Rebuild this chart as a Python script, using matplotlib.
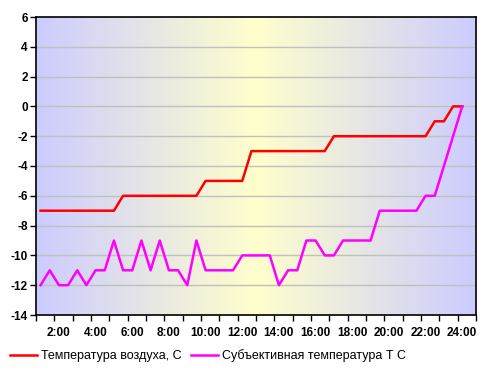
import numpy as np
import matplotlib
matplotlib.use("Agg")
import matplotlib.pyplot as plt
from matplotlib.colors import LinearSegmentedColormap

plt.rcParams['font.family'] = ['Liberation Sans', 'DejaVu Sans']

# half-hour readings, 1:00 .. 24:00
air_temp = [-7, -7, -7, -7, -7, -7, -7, -7, -7,
            -6, -6, -6, -6, -6, -6, -6, -6, -6,
            -5, -5, -5, -5, -5,
            -3, -3, -3, -3, -3, -3, -3, -3, -3,
            -2, -2, -2, -2, -2, -2, -2, -2, -2, -2, -2,
            -1, -1, 0, 0]
feel_temp = [-12, -11, -12, -12, -11, -12, -11, -11, -9, -11,
             -11, -9, -11, -9, -11, -11, -12, -9, -11, -11,
             -11, -11, -10, -10, -10, -10, -12, -11, -11, -9,
             -9, -10, -10, -9, -9, -9, -9, -7, -7, -7,
             -7, -7, -6, -6, -4, -2, 0]
hour_labels = ['2:00', '4:00', '6:00', '8:00', '10:00', '12:00',
               '14:00', '16:00', '18:00', '20:00', '22:00', '24:00']
y_ticks = [-14, -12, -10, -8, -6, -4, -2, 0, 2, 4, 6]

n_cat = 48
x = np.arange(len(air_temp))

fig = plt.figure(figsize=(4.88, 3.72), dpi=100)
ax = fig.add_axes([36 / 488, 1 - 315 / 372, 440 / 488, 298 / 372])

# background gradient: lavender at edges, pale yellow in the middle
cmap = LinearSegmentedColormap.from_list('bg', ['#ccccff', '#ffffcc', '#ccccff'])
grad = np.linspace(0, 1, 256).reshape(1, -1)
ax.imshow(grad, cmap=cmap, aspect='auto', extent=[-0.5, n_cat - 0.5, -14, 6], zorder=0)

ax.set_xlim(-0.5, n_cat - 0.5)
ax.set_ylim(-14, 6)

ax.set_yticks(y_ticks)
ax.set_yticklabels([str(v) for v in y_ticks], fontweight='bold', fontsize=8.5)
for v in y_ticks[1:-1]:
    ax.axhline(v, color='#c0c0c0', lw=1.0, zorder=1)

ax.set_xticks(np.arange(-0.5, n_cat, 2), minor=False)
ax.set_xticklabels([])
ax.set_xticks(np.arange(2, n_cat, 4), minor=True)
ax.set_xticklabels(hour_labels, minor=True, fontweight='bold', fontsize=8.5)
ax.tick_params(axis='x', which='major', length=4, width=1, direction='out')
ax.tick_params(axis='x', which='minor', length=0, pad=9)
ax.tick_params(axis='y', length=4, width=1, direction='out', pad=2)

for s in ax.spines.values():
    s.set_color('black')
    s.set_linewidth(1.2)

ax.plot(x, air_temp, color='#ff0000', lw=1.8, label='Температура воздуха, С', zorder=3)
ax.plot(x, feel_temp, color='#ff00ff', lw=1.8, label='Субъективная температура Т С', zorder=3)

fig.legend(loc='lower left', bbox_to_anchor=(0.0, 0.0), ncol=2, frameon=False,
           fontsize=9, handlelength=2.15, handletextpad=0.3, columnspacing=0.8,
           borderaxespad=0.4)

fig.savefig('out.png', dpi=100)
